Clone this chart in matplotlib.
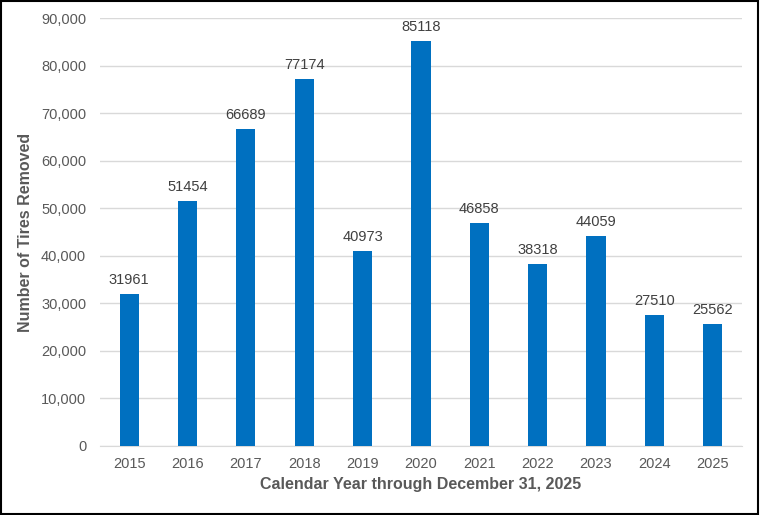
import matplotlib
matplotlib.use("Agg")
import matplotlib.pyplot as plt
from matplotlib.patches import Rectangle
from matplotlib.ticker import FuncFormatter

plt.rcParams['font.family'] = ['Liberation Sans', 'DejaVu Sans']

years = ['2015', '2016', '2017', '2018', '2019', '2020', '2021', '2022', '2023', '2024', '2025']
tires = [31961, 51454, 66689, 77174, 40973, 85118, 46858, 38318, 44059, 27510, 25562]

text_color = '#595959'
bar_color = '#0070C0'
grid_color = '#D9D9D9'

fig = plt.figure(figsize=(7.6, 5.15), dpi=100)
ax = fig.add_axes([0.1316, 0.134, 0.8444, 0.831])

x = list(range(len(years)))
bars = ax.bar(x, tires, width=0.33, color=bar_color, zorder=3)
for xi, v in zip(x, tires):
    ax.text(xi, v + 1500, str(v), ha='center', va='bottom', fontsize=10.5, color='#404040')

ax.set_xlim(-0.5, len(years) - 0.5)
ax.set_ylim(0, 90000)
ax.set_yticks(range(0, 90001, 10000))
ax.yaxis.set_major_formatter(FuncFormatter(lambda v, p: f'{int(v):,}'))
ax.set_xticks(x)
ax.set_xticklabels(years)
ax.tick_params(axis='both', length=0, labelsize=10.5, colors=text_color)
ax.tick_params(axis='x', pad=8)
ax.tick_params(axis='y', pad=10)
ax.grid(axis='y', color=grid_color, linewidth=1, zorder=0)
for s in ['top', 'right', 'left']:
    ax.spines[s].set_visible(False)
ax.spines['bottom'].set_color(grid_color)

ax.set_ylabel('Number of Tires Removed', fontsize=11.5, fontweight='bold', color=text_color, labelpad=6)
ax.set_xlabel('Calendar Year through December 31, 2025', fontsize=11.5, fontweight='bold', color=text_color, labelpad=4)

fig.patches.append(Rectangle((0.001, 0.002), 0.997, 0.996, transform=fig.transFigure,
                             fill=False, edgecolor='black', linewidth=1.5))

fig.savefig('out.png', dpi=100)
